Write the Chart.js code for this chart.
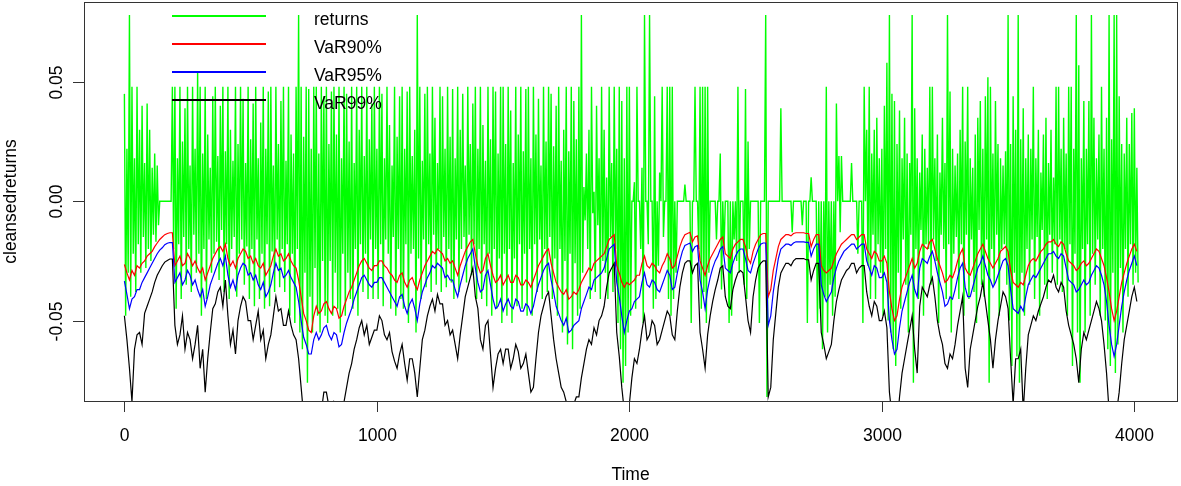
<!DOCTYPE html>
<html>
<head>
<meta charset="utf-8">
<script src="https://cdn.jsdelivr.net/npm/chart.js@4.4.1/dist/chart.umd.min.js"></script>
<style>
html, body { margin: 0; padding: 0; background: #fff; }
</style>
</head>
<body>
<canvas id="chart" width="1181" height="486"></canvas>
<script>
// --- DATA (returns and VaR values in thousandths, i.e. 48 = 0.048) ---

// returns: highest / lowest value in each 10-step block of Time
const retStep = 10;
const retHigh = [
  45,22,78,48,18,48,30,40,16,41,  30,14,20,15,0,0,0,0,0,48,
  48,18,48,25,39,48,15,48,22,54,  48,20,48,28,14,44,48,19,40,48,
  21,48,30,17,48,24,48,43,16,48,  26,41,48,18,33,48,22,46,48,15,
  48,24,42,48,17,48,28,20,48,78,  48,27,48,47,22,48,48,20,48,44,
  48,24,46,48,28,48,18,48,45,25,  48,16,48,30,48,19,48,26,41,48,
  22,48,45,18,48,32,15,48,27,44,  48,22,46,48,19,30,78,48,17,45,
  48,20,48,35,16,48,44,22,48,27,  47,18,48,30,45,15,48,24,41,48,
  22,48,32,17,48,26,48,46,20,48,  48,24,48,38,16,48,28,48,21,47,
  48,18,48,28,43,15,48,25,48,45,  23,40,48,17,30,48,21,48,42,26,
  48,78,6,20,30,48,4,40,18,48,    30,10,48,16,48,22,48,42,18,48,
  48,0,8,48,0,14,78,0,78,0,       44,0,12,48,0,48,48,48,0,0,
  0,0,7,0,0,0,48,0,48,48,         48,48,0,0,0,0,20,0,0,0,
  0,0,0,48,0,0,47,25,0,0,         0,0,0,0,78,0,0,0,0,0,
  39,0,0,0,0,0,0,0,0,0,           0,0,10,0,0,0,0,0,48,0,
  0,0,41,19,19,0,0,0,16,0,        0,0,0,48,30,48,20,30,35,18,
  22,40,58,78,45,42,24,38,18,35,  20,16,78,39,18,12,28,22,14,48,
  48,18,28,12,35,16,78,46,22,15,  20,30,48,25,48,18,14,28,35,42,
  22,44,52,48,20,42,24,18,15,21,  78,24,44,30,78,26,39,18,28,22,
  48,18,30,12,28,35,16,30,10,48,  48,22,35,20,48,48,22,78,57,18,
  42,22,42,78,35,18,28,48,22,35,  78,26,78,78,44,24,20,35,24,37,
  39,14
];
const retLow = [
  -48,-30,-40,-22,-38,-18,-30,-15,-28,-20,  -25,-14,-17,-10,0,0,0,0,0,-20,
  -45,-18,-41,-15,-35,-20,-38,-14,-30,-22,  -48,-20,-41,-16,-30,-22,-17,-33,-12,-38,
  -18,-41,-20,-15,-40,-22,-16,-35,-19,-41,  -20,-44,-16,-41,-22,-45,-18,-44,-21,-38,
  -16,-36,-20,-38,-18,-48,-22,-51,-20,-55,  -62,-30,-76,-40,-55,-28,-48,-55,-25,-48,
  -51,-25,-48,-30,-45,-55,-22,-48,-30,-41,  -45,-20,-48,-18,-38,-22,-41,-16,-41,-20,
  -41,-18,-44,-16,-22,-45,-15,-48,-20,-41,  -45,-18,-51,-22,-20,-55,-24,-41,-16,-36,
  -18,-38,-14,-35,-20,-38,-15,-36,-20,-34,  -41,-16,-38,-20,-15,-34,-14,-31,-18,-41,
  -20,-41,-18,-44,-22,-48,-20,-45,-24,-51,  -22,-48,-20,-51,-24,-44,-18,-45,-22,-48,
  -20,-48,-18,-38,-16,-41,-20,-38,-15,-41,  -24,-48,-20,-55,-25,-60,-22,-62,-26,-48,
  -45,-30,-8,-20,-41,-5,-38,-10,-41,-25,    -30,-41,-15,-38,-20,-51,-62,-76,-69,-55,
  -48,0,-45,0,-20,-51,0,-18,0,-45,          -41,-27,0,-15,0,-41,-48,-41,-30,0,
  0,0,0,0,-51,0,0,-20,-45,-38,              -51,-30,0,0,-16,0,-37,-20,0,-51,
  -48,-16,-25,-30,0,-35,-41,-20,0,0,        0,-51,0,0,-82,0,0,0,0,0,
  0,0,0,0,-13,0,0,0,-10,0,                  -51,0,0,0,-51,-45,-62,-40,-55,-35,
  -48,-40,0,-13,0,0,0,0,0,0,                -22,0,-51,0,-27,-41,-14,-41,-18,-30,
  -48,-20,-50,-55,-62,-69,-30,-45,-16,-35,  -55,-14,-76,-20,-41,-12,-48,-18,-20,-35,
  -16,-25,-51,-14,-20,-41,-18,-55,-22,-15,  -41,-18,-48,-14,-41,-16,-38,-51,-12,-35,
  -40,-16,-76,-20,-35,-14,-48,-20,-18,-35,  -50,-69,-30,-65,-76,-30,-48,-20,-35,-16,
  -41,-15,-48,-12,-35,-41,-14,-30,-18,-35,  -16,-38,-20,-48,-18,-69,-22,-55,-76,-20,
  -55,-18,-48,-22,-35,-16,-48,-20,-50,-62,  -69,-30,-72,-60,-28,-55,-20,-40,-18,-35,
  -30,-34
];

// VaR series, one value every 10 steps of Time
const varStep = 10;
const var90 = [
  -26.5,-30,-33,-29,-31,-27,-28,-26,-25,-23,  -22,-21,-19,-17.5,-16,-15,-14,-13.5,-13.2,-13.2,
  -27,-25,-23,-27,-26,-22,-24,-27,-25,-28,    -30,-28,-33,-30,-27,-24,-22,-20,-19,-21,
  -18,-24,-27,-25,-28,-24,-22,-20,-21,-24,    -23,-26,-24,-27,-28,-26,-31,-29,-27,-23,
  -20,-23,-22,-25,-24,-22,-25,-27,-28,-33,    -40,-47,-50,-54,-55,-48,-44,-47,-46,-43,
  -42,-45,-47,-44,-45,-49,-48,-44,-41,-38,    -36,-33,-30,-27,-25,-24,-26,-28,-29,-27,
  -27,-25,-25,-27,-28,-30,-31,-33,-34,-31,    -30,-34,-36,-33,-32,-35,-37,-33,-30,-27,
  -25,-23,-21,-22,-20,-21,-22,-25,-24,-26,    -25,-28,-31,-27,-24,-21,-19,-17,-16,-22,
  -27,-30,-29,-24,-22,-27,-31,-34,-33,-31,    -35,-33,-31,-34,-34,-31,-32,-35,-35,-33,
  -34,-36,-33,-30,-27,-25,-23,-21,-20,-26,    -30,-34,-36,-38,-39,-37,-41,-40,-38,-39,
  -37,-34,-32,-30,-28,-29,-26,-25,-24,-23,    -22,-19,-16,-15,-14,-27,-30,-34,-36,-34,
  -35,-34,-33,-31,-31,-26,-23,-27,-28,-26,    -27,-29,-30,-27,-25,-22,-24,-28,-27,-23,
  -19,-16,-14,-13.5,-13,-17,-15,-14.5,-25,-28, -31,-27,-24,-22,-20,-18,-16,-15,-22,-23,
  -24,-20,-18,-17,-16,-16,-19,-24,-26,-21,    -18,-16,-14,-13.5,-13.5,-40,-37,-29,-24,-19,
  -16,-15,-14,-14,-14.5,-13.5,-13.2,-13.2,-13.2,-13.2, -13.5,-13.5,-19,-16,-14,-14,-27,-29,-30,-29,
  -28,-25,-22,-20,-18,-17,-16,-15,-14,-14,    -16,-15,-14,-14,-20,-22,-24,-21,-22,-25,
  -25,-23,-26,-38,-45,-50,-48,-41,-36,-33,    -30,-27,-24,-28,-26,-21,-18,-19,-20,-17,
  -16,-20,-24,-27,-30,-34,-33,-31,-32,-29,    -25,-22,-20,-28,-30,-31,-28,-25,-22,-20,
  -18,-21,-24,-26,-28,-26,-24,-21,-20,-19,    -21,-29,-34,-35,-36,-34,-35,-31,-27,-25,
  -24,-25,-23,-21,-20,-18,-17,-17,-16,-18,    -19,-17,-18,-22,-25,-26,-27,-29,-28,-26,
  -25,-27,-26,-24,-22,-20,-21,-24,-27,-32,    -38,-45,-50,-46,-40,-34,-30,-26,-23,-20,
  -18,-21
];
const var95 = [
  -33.5,-39,-45,-41,-40,-37,-37,-34,-32,-30,  -28,-26,-24,-22,-20.5,-19.5,-18.2,-17.6,-17.3,-17.3,
  -34,-32,-30,-35,-33,-29,-31,-35,-33,-37,    -40,-37,-44,-40,-35,-32,-29,-26,-24,-27,
  -23,-31,-36,-33,-37,-31,-28,-26,-27,-31,    -30,-33,-31,-35,-37,-34,-40,-38,-35,-30,
  -26,-29,-28,-32,-31,-29,-32,-34,-36,-42,    -50,-57,-60,-64,-64,-58,-55,-58,-56,-53,
  -52,-56,-58,-55,-56,-61,-60,-55,-51,-48,    -45,-41,-38,-35,-32,-31,-33,-35,-36,-34,
  -34,-32,-32,-34,-36,-38,-40,-42,-44,-40,    -39,-44,-47,-43,-41,-45,-50,-43,-38,-35,
  -32,-30,-27,-28,-26,-27,-28,-32,-31,-33,    -33,-37,-40,-35,-31,-27,-24,-22,-20,-28,
  -34,-38,-37,-31,-29,-35,-41,-45,-44,-41,    -46,-43,-41,-44,-45,-41,-42,-46,-46,-43,
  -44,-47,-44,-39,-35,-32,-29,-27,-26,-33,    -38,-44,-47,-50,-52,-49,-55,-54,-52,-51,
  -50,-45,-42,-39,-36,-37,-33,-32,-31,-30,    -28,-24,-20,-19,-18,-34,-40,-48,-55,-50,
  -46,-45,-42,-41,-40,-34,-30,-35,-36,-33,    -34,-37,-38,-35,-32,-29,-31,-37,-36,-30,
  -25,-21,-18.5,-18,-17.5,-21,-19,-18.5,-33,-38, -45,-37,-32,-28,-25,-23,-20,-19,-28,-29,
  -30,-26,-23,-21,-20,-20,-24,-29,-30,-26,    -23,-20,-18,-17.5,-17.5,-52,-48,-38,-31,-24,
  -20,-19,-18,-18,-18.5,-17.5,-17,-17,-17,-17, -17.2,-17.2,-23,-20,-18,-18,-35,-39,-42,-40,
  -38,-32,-28,-25,-23,-21,-20,-19,-18,-18,    -20,-19,-18,-18,-25,-28,-31,-27,-28,-32,
  -32,-30,-34,-50,-58,-64,-62,-53,-46,-42,    -38,-34,-31,-37,-40,-28,-24,-25,-26,-23,
  -21,-25,-30,-34,-38,-44,-43,-40,-41,-37,    -32,-28,-26,-36,-40,-40,-36,-32,-28,-26,
  -23,-27,-31,-33,-36,-34,-31,-28,-25,-24,    -27,-37,-45,-46,-47,-44,-46,-40,-35,-33,
  -31,-32,-30,-28,-26,-24,-22,-22,-21,-23,    -24,-22,-23,-28,-33,-34,-35,-38,-37,-35,
  -33,-35,-34,-31,-29,-27,-28,-31,-35,-42,    -52,-60,-65,-60,-52,-44,-38,-33,-29,-26,
  -23,-27
];
const var99 = [
  -48,-58,-70,-84,-62,-56,-55,-60,-47,-44,    -41,-38,-34,-31,-29,-27,-25.5,-24.8,-24.2,-24.2,
  -52,-60,-56,-48,-62,-55,-58,-66,-60,-52,    -70,-62,-80,-66,-55,-45,-43,-38,-36,-44,
  -33,-48,-60,-54,-64,-50,-44,-40,-42,-50,    -50,-58,-52,-46,-58,-54,-66,-60,-56,-48,
  -40,-46,-45,-52,-52,-46,-52,-56,-58,-66,    -78,-90,-90,-95,-95,-85,-85,-92,-88,-80,
  -80,-86,-90,-84,-86,-92,-92,-84,-78,-72,    -68,-62,-58,-53,-50,-56,-52,-60,-57,-54,
  -54,-48,-50,-56,-58,-55,-63,-67,-70,-64,    -60,-68,-75,-66,-66,-72,-82,-70,-58,-54,
  -48,-44,-41,-46,-39,-43,-43,-52,-50,-56,    -54,-60,-66,-56,-48,-40,-36,-32,-28,-40,
  -45,-58,-62,-52,-50,-64,-78,-70,-64,-62,    -68,-62,-62,-70,-66,-60,-63,-70,-68,-64,
  -72,-80,-78,-66,-55,-48,-44,-40,-38,-48,    -58,-66,-72,-78,-80,-84,-90,-86,-85,-82,
  -82,-74,-68,-62,-58,-60,-53,-56,-50,-48,    -44,-36,-30,-28,-26,-55,-65,-78,-88,-90,
  -85,-74,-66,-68,-62,-54,-48,-58,-56,-50,    -52,-60,-58,-54,-50,-46,-48,-56,-58,-46,
  -36,-30,-26,-25,-25,-30,-27,-26,-55,-62,    -70,-56,-48,-42,-37,-33,-28,-27,-40,-44,
  -45,-37,-33,-30,-29,-30,-40,-50,-55,-40,    -33,-28,-26,-25,-25,-82,-78,-58,-47,-36,
  -30,-28,-26,-26,-27,-25,-24,-24,-24,-24,    -24.5,-24.5,-33,-29,-26,-26,-55,-60,-66,-63,
  -60,-50,-42,-37,-33,-31,-29,-28,-26,-26,    -30,-28,-27,-27,-38,-44,-48,-42,-44,-50,
  -50,-46,-53,-80,-90,-95,-95,-82,-72,-66,    -60,-54,-48,-62,-72,-44,-36,-38,-40,-35,
  -32,-40,-50,-56,-60,-68,-70,-64,-66,-60,    -52,-46,-40,-70,-78,-62,-56,-50,-44,-40,
  -34,-42,-50,-58,-70,-58,-50,-44,-38,-40,    -45,-66,-85,-66,-66,-62,-88,-70,-56,-52,
  -48,-50,-46,-43,-40,-36,-33,-34,-31,-36,    -38,-34,-36,-46,-52,-56,-60,-66,-76,-62,
  -55,-58,-54,-50,-46,-42,-45,-50,-60,-72,    -88,-95,-95,-88,-80,-68,-58,-52,-46,-40,
  -36,-42
];

const xTicks = [0, 1000, 2000, 3000, 4000];
const xTickLabels = ["0", "1000", "2000", "3000", "4000"];
const yTicks = [-0.05, 0, 0.05];
const yTickLabels = ["-0.05", "0.00", "0.05"];
const seriesNames = ["returns", "VaR90%", "VaR95%", "VaR99%"];
const seriesColors = ["#00ff00", "#ff0000", "#0000ff", "#000000"];
const xTitle = "Time";
const yTitle = "cleansedreturns";

// --- BUILD POINTS ---
const returnPts = [];
retHigh.forEach((h, i) => {
    returnPts.push({ x: i * retStep, y: h / 1000 });
    returnPts.push({ x: i * retStep + retStep / 2, y: retLow[i] / 1000 });
});
const varPts = arr => arr.map((v, i) => ({ x: i * varStep, y: v / 1000 }));

const FONT = '17.5px "Liberation Sans", Arial, sans-serif';

// --- R style axes, box and legend ---
const rStyle = {
    id: "rStyle",
    afterDraw(chart) {
        const c = chart.ctx;
        const a = chart.chartArea;
        const xs = chart.scales.x, ys = chart.scales.y;
        c.save();
        c.strokeStyle = "#333";
        c.lineWidth = 1;
        c.strokeRect(Math.round(a.left) + 0.5, Math.round(a.top) + 0.5,
                     Math.round(a.right - a.left), Math.round(a.bottom - a.top));

        c.fillStyle = "#000";
        c.font = FONT;

        // x ticks
        c.textAlign = "center";
        c.textBaseline = "alphabetic";
        xTicks.forEach((v, i) => {
            const px = Math.round(xs.getPixelForValue(v)) + 0.5;
            c.beginPath();
            c.moveTo(px, a.bottom);
            c.lineTo(px, a.bottom + 11);
            c.stroke();
            c.fillText(xTickLabels[i], px, 441);
        });
        c.fillText(xTitle, (a.left + a.right) / 2, 480);

        // y ticks (rotated labels)
        yTicks.forEach((v, i) => {
            const py = Math.round(ys.getPixelForValue(v)) + 0.5;
            c.beginPath();
            c.moveTo(a.left, py);
            c.lineTo(a.left - 11, py);
            c.stroke();
            c.save();
            c.translate(62, py);
            c.rotate(-Math.PI / 2);
            c.fillText(yTickLabels[i], 0, 0);
            c.restore();
        });
        c.save();
        c.translate(16, (a.top + a.bottom) / 2);
        c.rotate(-Math.PI / 2);
        c.fillText(yTitle, 0, 0);
        c.restore();

        // legend, no box
        c.textAlign = "left";
        seriesNames.forEach((name, i) => {
            const y = 16 + i * 28;
            c.strokeStyle = seriesColors[i];
            c.lineWidth = 2;
            c.beginPath();
            c.moveTo(172, y);
            c.lineTo(266, y);
            c.stroke();
            c.fillText(name, 314, y + 8.5);
        });
        c.restore();
    }
};

new Chart(document.getElementById("chart"), {
    type: "line",
    data: {
        datasets: [
            { label: seriesNames[3], data: varPts(var99), borderColor: seriesColors[3], order: 1 },
            { label: seriesNames[2], data: varPts(var95), borderColor: seriesColors[2], order: 2 },
            { label: seriesNames[1], data: varPts(var90), borderColor: seriesColors[1], order: 3 },
            { label: seriesNames[0], data: returnPts, borderColor: seriesColors[0], borderWidth: 1.4, order: 4 }
        ]
    },
    options: {
        responsive: false,
        animation: false,
        events: [],
        layout: { padding: { left: 84, right: 4, top: 2, bottom: 85 } },
        elements: {
            point: { radius: 0 },
            line: { tension: 0, borderWidth: 1.2, fill: false }
        },
        scales: {
            x: { type: "linear", min: -160, max: 4169, display: false },
            y: { type: "linear", min: -0.0837, max: 0.0835, display: false }
        },
        plugins: { legend: { display: false }, tooltip: { enabled: false } }
    },
    plugins: [rStyle]
});
</script>
</body>
</html>
